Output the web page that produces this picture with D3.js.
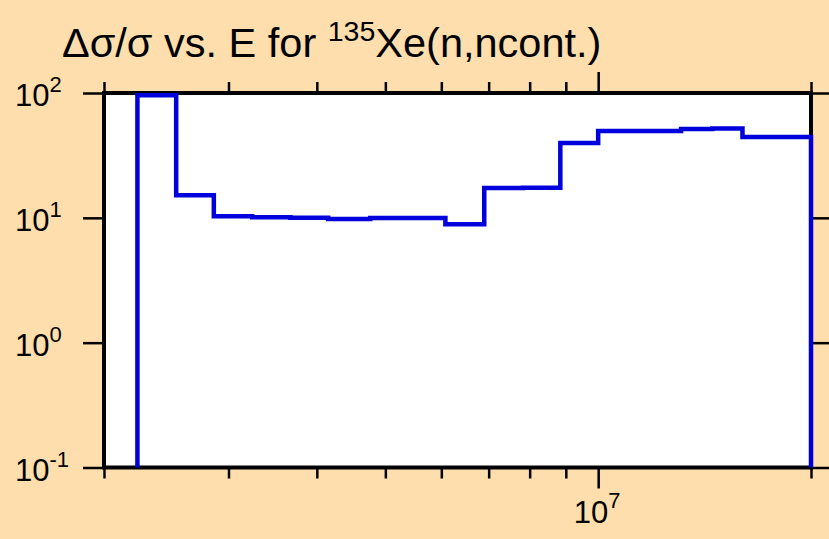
<!DOCTYPE html>
<html>
<head>
<meta charset="utf-8">
<script src="https://cdn.jsdelivr.net/npm/d3@7"></script>
<style>
  html, body { margin: 0; padding: 0; background: #FFDEAD; }
  svg { display: block; }
  text { font-family: "Liberation Sans", Arial, sans-serif; fill: #000; }
</style>
</head>
<body>
<svg id="chart" width="829" height="539"></svg>
<script>
// Bin edges (energy, eV) and relative uncertainty values (%)
const binEdges = [2.23e6, 2.53e6, 2.86e6, 3.24e6, 3.67e6, 4.15e6, 4.76e6, 5.33e6, 6.08e6,
                  6.9e6, 7.83e6, 8.84e6, 1.0e7, 1.15e7, 1.31e7, 1.45e7, 1.6e7, 2.0e7];
const binValues = [96, 15.2, 10.3, 10.1, 10.0, 9.8, 9.95, 9.95, 8.9,
                   17.3, 17.4, 39.7, 49.5, 49.6, 51.5, 52, 44.4];
const xDomain = [2e6, 2e7];
const yDomain = [0.1, 100];
const yTickExps = [-1, 0, 1, 2];
const xMinorTicks = [2e6, 3e6, 4e6, 5e6, 6e6, 7e6, 8e6, 9e6, 2e7];
const xMajorTicks = [1e7];
const xMajorLabels = [{base: "10", exp: "7"}];

const svg = d3.select("#chart");
const L = 104, R = 811, T = 93, B = 467.5;

const x = d3.scaleLog().domain(xDomain).range([L, R]);
const y = d3.scaleLog().domain(yDomain).range([B, T]);

// plot background and frame
svg.append("rect").attr("x", L).attr("y", T).attr("width", R - L).attr("height", B - T)
  .attr("fill", "#fff").attr("stroke", "#000").attr("stroke-width", 4);

// Axes via d3 axis generators
const tickStroke = 2.5;
function styleAxis(g) {
  g.select(".domain").remove();
  g.selectAll(".tick line").attr("stroke", "#000").attr("stroke-width", tickStroke);
  g.selectAll(".tick text").remove();
}
// bottom minor / major
svg.append("g").attr("transform", `translate(0,${B})`)
  .call(d3.axisBottom(x).tickValues(xMinorTicks).tickSize(11).tickFormat(""))
  .call(styleAxis);
svg.append("g").attr("transform", `translate(0,${B})`)
  .call(d3.axisBottom(x).tickValues(xMajorTicks).tickSize(21).tickFormat(""))
  .call(styleAxis);
// top minor / major
svg.append("g").attr("transform", `translate(0,${T})`)
  .call(d3.axisTop(x).tickValues(xMinorTicks).tickSize(11).tickFormat(""))
  .call(styleAxis);
svg.append("g").attr("transform", `translate(0,${T})`)
  .call(d3.axisTop(x).tickValues(xMajorTicks).tickSize(21).tickFormat(""))
  .call(styleAxis);
// left / right
const yTicks = yTickExps.map(e => Math.pow(10, e));
svg.append("g").attr("transform", `translate(${L},0)`)
  .call(d3.axisLeft(y).tickValues(yTicks).tickSize(21).tickFormat(""))
  .call(styleAxis);
svg.append("g").attr("transform", `translate(${R},0)`)
  .call(d3.axisRight(y).tickValues(yTicks).tickSize(21).tickFormat(""))
  .call(styleAxis);

// Y tick labels
const yLab = svg.append("g");
yTickExps.forEach(e => {
  const t = yLab.append("text").attr("x", 15).attr("y", y(Math.pow(10, e)) + 13)
    .style("font-size", "31px");
  t.append("tspan").text("10");
  t.append("tspan").attr("dy", -14).style("font-size", "22px").text(String(e));
});
// X tick labels
xMajorTicks.forEach((v, i) => {
  const t = svg.append("text").attr("x", x(v) - 1).attr("y", 523)
    .attr("text-anchor", "middle").style("font-size", "31px");
  t.append("tspan").text(xMajorLabels[i].base);
  t.append("tspan").attr("dy", -15).style("font-size", "22px").text(xMajorLabels[i].exp);
});

// Title
const title = svg.append("text").attr("x", 62).attr("y", 57).style("font-size", "41.5px");
title.append("tspan").text("\u0394\u03c3/\u03c3 vs. E for ");
title.append("tspan").attr("dy", -16).style("font-size", "28.5px").text("135");
title.append("tspan").attr("dy", 16).text("Xe(n,ncont.)");

// Step line
const pts = [[binEdges[0], yDomain[0]]];
binValues.forEach((v, i) => pts.push([binEdges[i], v]));
pts.push([binEdges[binEdges.length - 1], binValues[binValues.length - 1]]);
pts.push([binEdges[binEdges.length - 1], yDomain[0]]);
const line = d3.line().x(d => x(d[0])).y(d => y(d[1])).curve(d3.curveStepAfter);
svg.append("path").attr("d", line(pts)).attr("fill", "none")
  .attr("stroke", "#0000dd").attr("stroke-width", 4.5);
</script>
</body>
</html>
